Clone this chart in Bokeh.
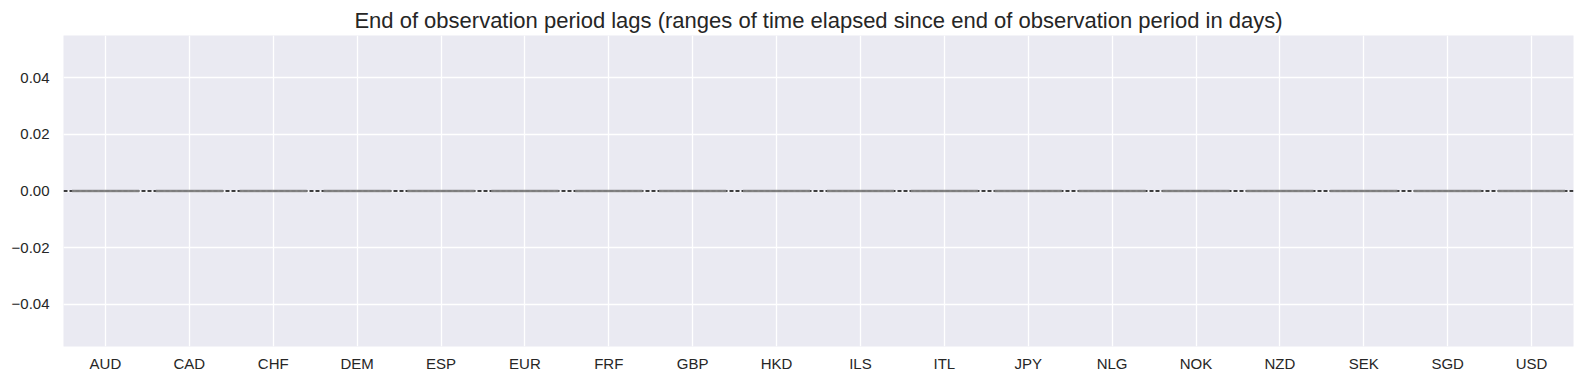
from bokeh.plotting import figure
from bokeh.models import FixedTicker, ColumnDataSource, Span
from bokeh.embed import file_html
from bokeh.resources import INLINE

categories = ["AUD", "CAD", "CHF", "DEM", "ESP", "EUR", "FRF", "GBP", "HKD",
              "ILS", "ITL", "JPY", "NLG", "NOK", "NZD", "SEK", "SGD", "USD"]
q1 = [0.0] * 18
median = [0.0] * 18
q3 = [0.0] * 18
y_ticks = [-0.04, -0.02, 0.0, 0.02, 0.04]
y_tick_labels = ["\u22120.04", "\u22120.02", "0.00", "0.02", "0.04"]
title = "End of observation period lags (ranges of time elapsed since end of observation period in days)"

FONT = "Liberation Sans"
TXT = "#262626"

p = figure(width=1580, height=376, x_range=categories, y_range=(-0.055, 0.055),
           output_backend="svg", toolbar_location=None, title=title,
           min_border_left=63, min_border_right=7, min_border_top=35, min_border_bottom=30)
p.x_range.range_padding = 0
p.background_fill_color = "#EAEAF2"
p.border_fill_color = "white"
p.outline_line_color = None

p.title.align = "center"
p.title.text_font = FONT
p.title.text_font_size = "22px"
p.title.text_font_style = "normal"
p.title.text_color = TXT
p.title.standoff = 6

for ax in (p.xaxis[0], p.yaxis[0]):
    ax.axis_line_color = None
    ax.major_tick_line_color = None
    ax.minor_tick_line_color = None
    ax.major_tick_out = 0
    ax.major_tick_in = 0
    ax.major_label_text_font = FONT
    ax.major_label_text_font_size = "15px"
    ax.major_label_text_color = TXT
p.xaxis.major_label_standoff = 8
p.yaxis.major_label_standoff = 14
p.yaxis.ticker = FixedTicker(ticks=y_ticks)
p.yaxis.major_label_overrides = {t: l for t, l in zip(y_ticks, y_tick_labels)}

p.grid.grid_line_color = "white"
p.grid.grid_line_width = 1.3

src = ColumnDataSource(dict(cat=categories, q1=q1, med=median, q3=q3))

# horizontal reference line at zero
zero_line = Span(location=0, dimension="width", line_color="black", line_width=1.5,
                 line_dash="4 2", level="underlay")
p.add_layout(zero_line)

p.vbar(x="cat", width=0.8, bottom="q1", top="q3", source=src,
       fill_color=None, line_color="#8a8a8a", line_width=2.5, line_alpha=0.9)
p.vbar(x="cat", width=0.8, bottom="med", top="med", source=src,
       fill_color=None, line_color="#7a7a7a", line_width=1, line_alpha=0.8)

open("out.html", "w").write(file_html(p, INLINE))
